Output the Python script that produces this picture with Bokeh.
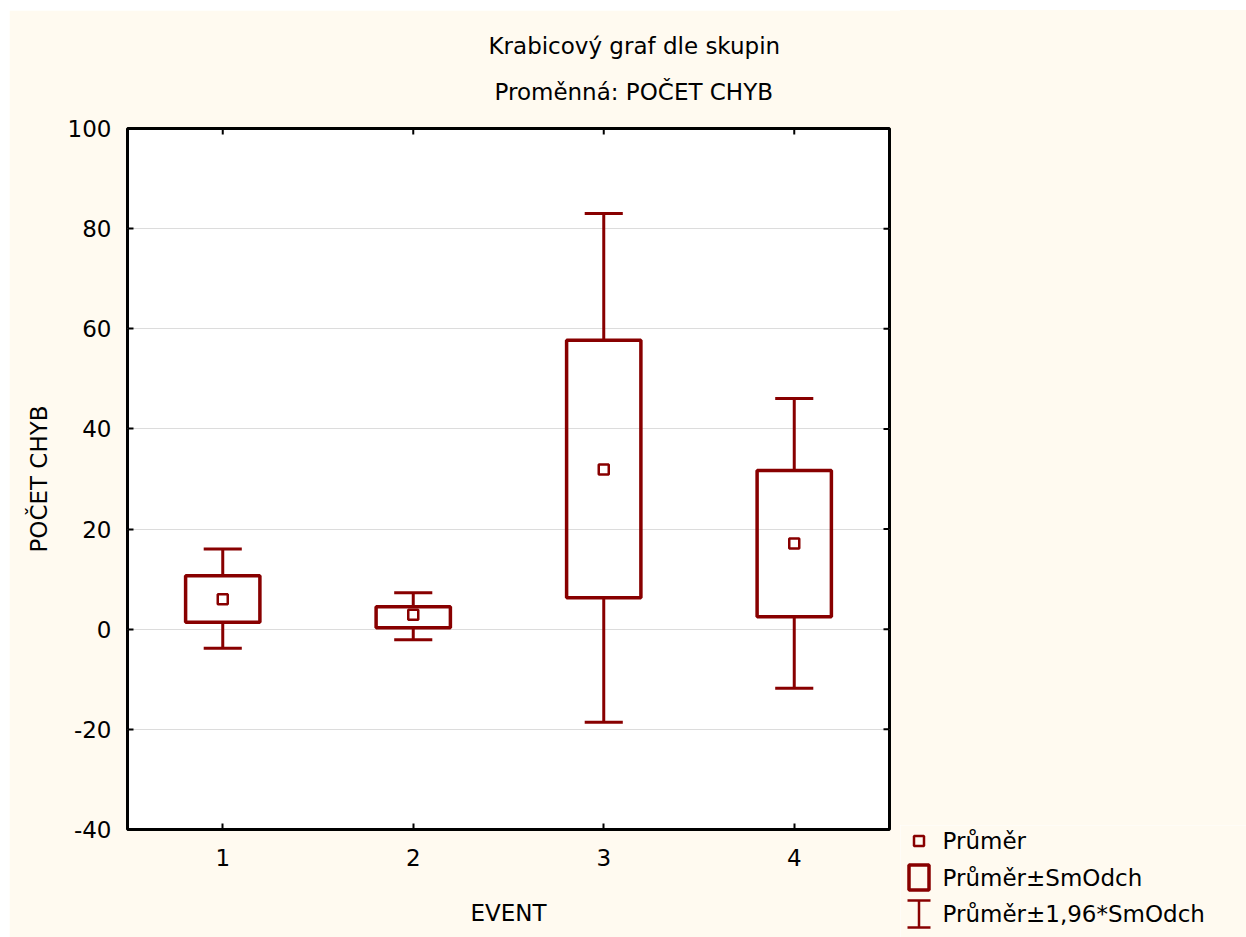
from bokeh.plotting import figure
from bokeh.models import Title, FixedTicker, Range1d, Spacer, ColumnDataSource
from bokeh.core.properties import value
from bokeh.layouts import column, row
from bokeh.embed import file_html
from bokeh.resources import INLINE

# ---------------- data ----------------
events = [1, 2, 3, 4]
mean = [6.0, 2.9, 31.9, 17.1]
sd_low = [1.4, 0.3, 6.3, 2.5]
sd_high = [10.7, 4.5, 57.7, 31.7]
ci_low = [-3.8, -2.1, -18.6, -11.8]
ci_high = [16.0, 7.3, 83.0, 46.1]
y_ticks = [-40, -20, 0, 20, 40, 60, 80, 100]

title_line1 = "Krabicový graf dle skupin"
title_line2 = "Proměnná: POČET CHYB"
x_label = "EVENT"
y_label = "POČET CHYB"
legend_labels = ["Průměr", "Průměr±SmOdch", "Průměr±1,96*SmOdch"]

# ---------------- style ----------------
RED = "#880000"
CREAM = "#FFFAF0"
FONT = "DejaVu Sans"
FS = "23px"
BOX_W = 0.39
CAP = 0.1
X_MIN, X_MAX = 0.5, 4.5
Y_MIN, Y_MAX = -40, 100

W, H = 891, 927
p = figure(width=W, height=H, x_range=Range1d(X_MIN, X_MAX), y_range=Range1d(Y_MIN, Y_MAX),
           output_backend="svg", toolbar_location=None, tools="", title=None,
           min_border_left=118, min_border_right=11, min_border_top=118, min_border_bottom=108,
           background_fill_color="white", border_fill_color=CREAM)
p.outline_line_color = "black"
p.outline_line_width = 3

p.xaxis.ticker = FixedTicker(ticks=events)
p.yaxis.ticker = FixedTicker(ticks=y_ticks)
p.yaxis.major_label_overrides = {t: str(t) for t in y_ticks}
p.xaxis.axis_label = x_label
p.yaxis.axis_label = y_label
for ax in [p.xaxis[0], p.yaxis[0]]:
    ax.axis_line_color = None
    ax.major_tick_in = 6
    ax.major_tick_out = 0
    ax.major_tick_line_width = 2
    ax.minor_tick_line_color = None
    ax.major_label_text_font = FONT
    ax.major_label_text_font_size = FS
    ax.major_label_text_color = "black"
    ax.axis_label_text_font = FONT
    ax.axis_label_text_font_size = FS
    ax.axis_label_text_font_style = "normal"
    ax.axis_label_text_color = "black"
p.yaxis.major_label_standoff = 16
p.yaxis.axis_label_standoff = 13
p.xaxis.major_label_standoff = 19
p.xaxis.axis_label_standoff = 31

p.xgrid.visible = False
p.ygrid.grid_line_color = "#dcdcdc"
p.ygrid.grid_line_width = 1

# mirrored inward ticks on the top and right frame edges
TICK_Y = 6 * (Y_MAX - Y_MIN) / 701
TICK_X = 6 * (X_MAX - X_MIN) / 762
p.segment(x0=events, y0=[Y_MAX] * len(events), x1=events, y1=[Y_MAX - TICK_Y] * len(events),
          line_color="black", line_width=2)
p.segment(x0=[X_MAX] * len(y_ticks), y0=y_ticks, x1=[X_MAX - TICK_X] * len(y_ticks), y1=y_ticks,
          line_color="black", line_width=2)

# titles (inner one first)
t2 = Title(text=title_line2, align="left", offset=367, text_font=FONT, text_font_size=FS,
           text_font_style="normal", text_color="black", standoff=48, vertical_align="bottom")
p.add_layout(t2, "above")
t1 = Title(text=title_line1, align="left", offset=361, text_font=FONT, text_font_size=FS,
           text_font_style="normal", text_color="black", standoff=-12, vertical_align="bottom")
p.add_layout(t1, "above")

# ---------------- glyphs ----------------
src = ColumnDataSource(dict(
    x=events, mean=mean, sd_low=sd_low, sd_high=sd_high, ci_low=ci_low, ci_high=ci_high,
    cl=[e - CAP for e in events], cr=[e + CAP for e in events]))

p.segment(x0="x", y0="sd_high", x1="x", y1="ci_high", source=src, line_color=RED, line_width=3)
p.segment(x0="x", y0="ci_low", x1="x", y1="sd_low", source=src, line_color=RED, line_width=3)
p.segment(x0="cl", y0="ci_high", x1="cr", y1="ci_high", source=src, line_color=RED, line_width=3)
p.segment(x0="cl", y0="ci_low", x1="cr", y1="ci_low", source=src, line_color=RED, line_width=3)
p.vbar(x="x", width=BOX_W, bottom="sd_low", top="sd_high", source=src,
       fill_color=None, line_color=RED, line_width=3.5)
p.scatter(x="x", y="mean", source=src, marker="square", size=10, fill_color="white",
          line_color=RED, line_width=2.5)

# ---------------- legend panel (pixel-like coordinates) ----------------
TOP = 825
LW, LH = 346, 937 - TOP
lg = figure(width=LW, height=LH, x_range=Range1d(900, 1246), y_range=Range1d(937, TOP),
            output_backend="svg", toolbar_location=None, tools="", title=None,
            min_border=0, x_axis_location=None, y_axis_location=None,
            background_fill_color=CREAM, border_fill_color=CREAM)
lg.outline_line_color = None
lg.xgrid.visible = False
lg.ygrid.visible = False

LX = 918.5
rows_y = [840.5, 877, 913.5]
TX = 942

lg.scatter(x=[LX], y=[rows_y[0]], marker="square", size=10, fill_color=None,
           line_color=RED, line_width=2.5)
lg.rect(x=[LX], y=[rows_y[1]], width=20, height=25, fill_color=None,
        line_color=RED, line_width=3.5)
lg.segment(x0=[LX - 11.5, LX - 11.5, LX], y0=[rows_y[2] - 13.5, rows_y[2] + 13.5, rows_y[2] - 13.5],
           x1=[LX + 11.5, LX + 11.5, LX], y1=[rows_y[2] - 13.5, rows_y[2] + 13.5, rows_y[2] + 13.5],
           line_color=RED, line_width=2.5)
lg.text(x=[TX] * 3, y=rows_y, text=legend_labels, text_font=value(FONT),
        text_font_size=FS, text_color="black", text_baseline="middle", text_align="left")

right_col = column(Spacer(height=TOP - 10, width=LW, styles={"background-color": CREAM}), lg)
layout = column(Spacer(height=10, width=1246), row(Spacer(width=9, height=H), p, right_col))
open("out.html", "w").write(file_html(layout, INLINE))
